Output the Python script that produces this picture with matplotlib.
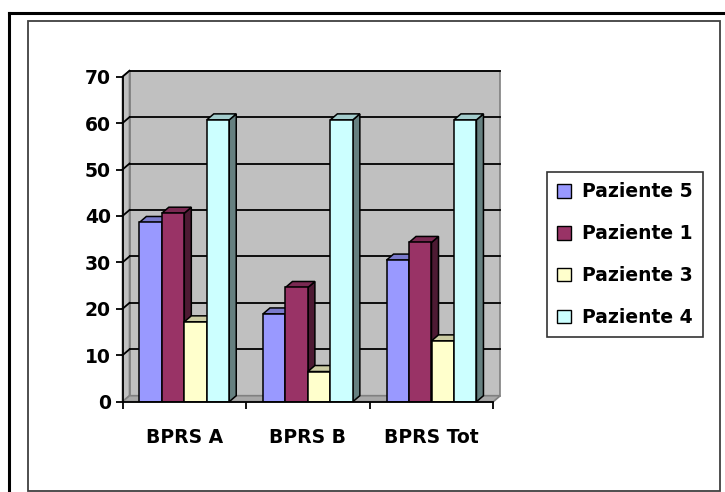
import numpy as np
import matplotlib.pyplot as plt
from matplotlib.patches import Polygon, Patch, Rectangle
from matplotlib.lines import Line2D

plt.rcParams['font.family'] = ['DejaVu Sans']
plt.rcParams['font.weight'] = 'bold'

# dati
categorie = ['BPRS A', 'BPRS B', 'BPRS Tot']
serie = ['Paziente 5', 'Paziente 1', 'Paziente 3', 'Paziente 4']
paziente5 = [38.6, 18.9, 30.5]
paziente1 = [40.6, 24.6, 34.3]
paziente3 = [17.2, 6.5, 13.1]
paziente4 = [60.7, 60.7, 60.7]
valori = [paziente5, paziente1, paziente3, paziente4]

colori = ['#9999FF', '#993366', '#FFFFCC', '#CCFFFF']


def scurisci(col, f):
    r, g, b = [int(col[i:i + 2], 16) / 255 for i in (1, 3, 5)]
    return (r * f, g * f, b * f)


fig = plt.figure(figsize=(7.25, 4.92), dpi=100)
fig.patch.set_facecolor('white')

# cornice esterna e riquadro del grafico
fig.add_artist(Line2D([9 / 725, 1], [1 - 13 / 492] * 2, color='black', lw=2.2))
fig.add_artist(Line2D([9 / 725] * 2, [0, 1 - 13 / 492], color='black', lw=2.2))
fig.add_artist(Rectangle((28 / 725, 1 / 492), 692 / 725, 470 / 492,
                         fill=False, edgecolor='#404040', lw=1.3))

ax = fig.add_axes([122.5 / 725, (492 - 401.7) / 492, 370.8 / 725, 325 / 492])
ax.set_xlim(0, 3)
ax.set_ylim(0, 70)
ax.patch.set_visible(False)

# profondita' prospettica (unita' dati)
dx = 7 / 123.6
dy = 6 / 4.643
ymax = 70

# pareti e pavimento
parete = Polygon([(dx, dy), (3 + dx, dy), (3 + dx, ymax + dy), (dx, ymax + dy)],
                 closed=True, fc='#C0C0C0', ec='#808080', lw=1.2, zorder=0.5, clip_on=False)
lato = Polygon([(0, 0), (dx, dy), (dx, ymax + dy), (0, ymax)],
               closed=True, fc='#C0C0C0', ec='#808080', lw=1.2, zorder=0.5, clip_on=False)
pavimento = Polygon([(0, 0), (3, 0), (3 + dx, dy), (dx, dy)],
                    closed=True, fc='#A8A8A8', ec='#808080', lw=1.2, zorder=0.6, clip_on=False)
for p in (parete, lato, pavimento):
    ax.add_patch(p)

# griglia sulla parete di fondo e su quella laterale
for v in range(10, 71, 10):
    ax.plot([dx, 3 + dx], [v + dy, v + dy], color='black', lw=1.3, zorder=0.8, clip_on=False)
    ax.plot([0, dx], [v, v + dy], color='black', lw=1.3, zorder=0.8, clip_on=False)

# colonne 3D
w = 1 / 5.5
off = (1 - 4 * w) / 2
z = 2
for c in range(len(categorie)):
    for i, nome in enumerate(serie):
        v = valori[i][c]
        x0 = c + off + i * w
        x1 = x0 + w
        lato_b = Polygon([(x1, 0), (x1 + dx, dy), (x1 + dx, v + dy), (x1, v)],
                         closed=True, fc=scurisci(colori[i], 0.5), ec='black', lw=1.1,
                         zorder=z, clip_on=False)
        cima = Polygon([(x0, v), (x1, v), (x1 + dx, v + dy), (x0 + dx, v + dy)],
                       closed=True, fc=scurisci(colori[i], 0.8), ec='black', lw=1.1,
                       zorder=z, clip_on=False)
        ax.add_patch(lato_b)
        ax.add_patch(cima)
        ax.bar(x0, v, width=w, align='edge', color=colori[i], edgecolor='black',
               linewidth=1.1, zorder=z + 0.5)
        z += 1

# assi
for s in ('top', 'right'):
    ax.spines[s].set_visible(False)
ax.spines['left'].set_linewidth(1.3)
ax.spines['bottom'].set_linewidth(1.3)
ax.spines['left'].set_zorder(50)
ax.spines['bottom'].set_zorder(50)

ax.set_yticks(np.arange(0, 71, 10))
ax.tick_params(axis='y', direction='out', length=5, width=1.3, pad=3.3, labelsize=13.5)
ax.set_xticks([0, 1, 2, 3])
ax.set_xticklabels([])
ax.set_xticks([0.5, 1.5, 2.5], minor=True)
ax.set_xticklabels(categorie, minor=True)
ax.tick_params(axis='x', which='major', direction='out', length=5, width=1.3)
ax.tick_params(axis='x', which='minor', length=0, pad=19, labelsize=13.5)

# legenda
maniglie = [Patch(facecolor=colori[i], edgecolor='black', linewidth=1.0) for i in range(4)]
leg = fig.legend(maniglie, serie, loc='upper left',
                 bbox_to_anchor=(547 / 725, 1 - 172 / 492), fontsize=13.5,
                 frameon=True, fancybox=False, borderpad=0.55, labelspacing=1.22,
                 handlelength=0.75, handleheight=0.75, handletextpad=0.57,
                 borderaxespad=0)
leg.get_frame().set_edgecolor('black')
leg.get_frame().set_linewidth(1.2)

fig.savefig('out.png', dpi=100, facecolor='white')
